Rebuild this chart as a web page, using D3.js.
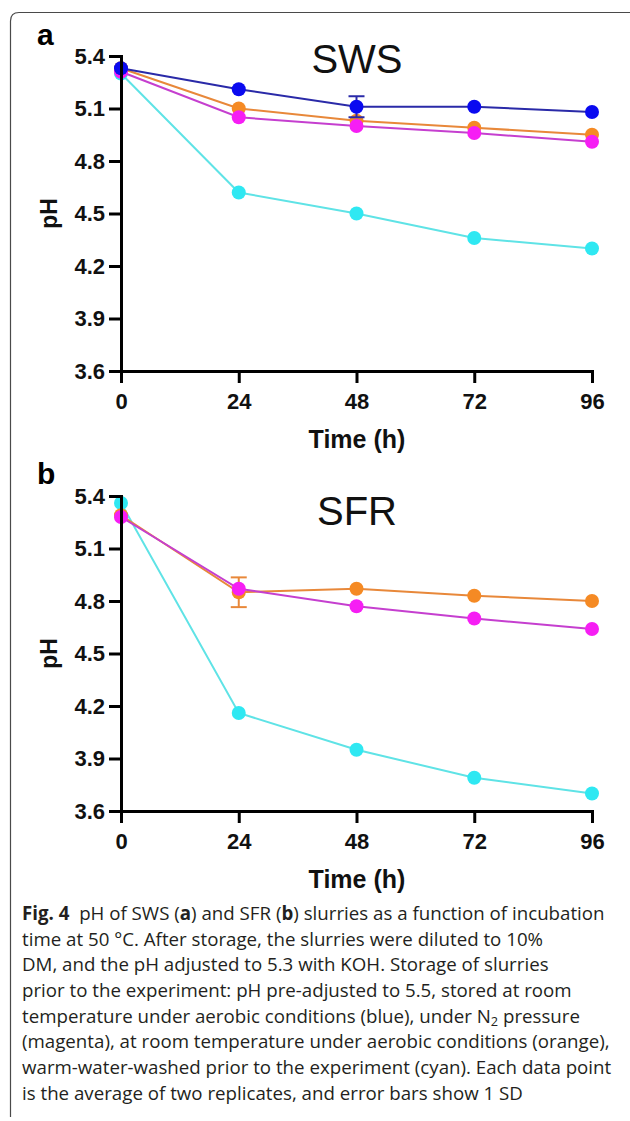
<!DOCTYPE html>
<html>
<head>
<meta charset="utf-8">
<script src="https://cdn.jsdelivr.net/npm/d3@7"></script>
<style>
  html, body { margin: 0; padding: 0; background: #fff; }
  svg { display: block; }
  .axis path, .axis line { stroke: #000; stroke-width: 3; }
  .axis text { font-family: "Liberation Sans", Arial, sans-serif; font-weight: bold; font-size: 22px; fill: #111; }
  .caption text { font-family: "Open Sans", sans-serif; font-size: 19px; fill: #231f20; white-space: pre; }
</style>
</head>
<body>
<svg></svg>
<script>
// ---- data ----
var timeH = [0, 24, 48, 72, 96];
var yTicks = [3.6, 3.9, 4.2, 4.5, 4.8, 5.1, 5.4];

// SWS (panel a)
var swsCyan    = [5.30, 4.62, 4.50, 4.36, 4.30];
var swsOrange  = [5.33, 5.10, 5.03, 4.99, 4.95];
var swsMagenta = [5.31, 5.05, 5.00, 4.96, 4.91];
var swsBlue    = [5.33, 5.21, 5.11, 5.11, 5.08];
var swsBlueSD  = [0, 0.01, 0.06, 0.01, 0];

// SFR (panel b)
var sfrCyan    = [5.36, 4.16, 3.95, 3.79, 3.70];
var sfrOrange  = [5.29, 4.85, 4.87, 4.83, 4.80];
var sfrOrangeSD = [0, 0.085, 0.01, 0.01, 0];
var sfrMagenta = [5.28, 4.87, 4.77, 4.70, 4.64];

var captionLines = [
  "**Fig. 4**  pH of SWS (**a**) and SFR (**b**) slurries as a function of incubation",
  "time at 50 °C. After storage, the slurries were diluted to 10%",
  "DM, and the pH adjusted to 5.3 with KOH. Storage of slurries",
  "prior to the experiment: pH pre-adjusted to 5.5, stored at room",
  "temperature under aerobic conditions (blue), under N_2_ pressure",
  "(magenta), at room temperature under aerobic conditions (orange),",
  "warm-water-washed prior to the experiment (cyan). Each data point",
  "is the average of two replicates, and error bars show 1 SD"
];

var colors = {
  cyan:    {line: "#5fe3e6", dot: "#2fe8f2"},
  orange:  {line: "#e8883a", dot: "#f58a24"},
  magenta: {line: "#c53fcf", dot: "#f61ef4"},
  blue:    {line: "#2a2aa8", dot: "#0a0af0"}
};

var width = 630, height = 1121;
var svg = d3.select("svg").attr("width", width).attr("height", height);

svg.append("rect").attr("width", width).attr("height", height).attr("fill", "#fff");

// outer frame (only top and left edges visible)
svg.append("path")
  .attr("d", "M10.5,1117 L10.5,21 Q10.5,12.5 19,12.5 L640,12.5")
  .attr("fill", "none")
  .attr("stroke", "#4a4a4a")
  .attr("stroke-width", 1.2);

var x = d3.scaleLinear().domain([0, 96]).range([121, 592]);

function drawPanel(opts) {
  var y = d3.scaleLinear().domain([3.6, 5.4]).range([opts.bottom, opts.bottom - 315]);
  var g = svg.append("g");

  g.append("text")
    .attr("x", 37).attr("y", opts.letterY)
    .attr("font-family", "Liberation Sans, Arial, sans-serif")
    .attr("font-weight", "bold").attr("font-size", 30)
    .text(opts.letter);

  g.append("text")
    .attr("x", 357).attr("y", opts.titleY)
    .attr("text-anchor", "middle")
    .attr("font-family", "Liberation Sans, Arial, sans-serif")
    .attr("font-size", 40).attr("fill", "#111")
    .text(opts.title);

  var line = d3.line()
    .x(function(d, i) { return x(timeH[i]); })
    .y(function(d) { return y(d); });

  opts.series.forEach(function(s) {
    var c = colors[s.color];
    g.append("path")
      .datum(s.values)
      .attr("d", line)
      .attr("fill", "none")
      .attr("stroke", c.line)
      .attr("stroke-width", 2);

    if (s.sd) {
      var eb = g.append("g").selectAll("g")
        .data(s.values.map(function(v, i) { return {t: timeH[i], v: v, sd: s.sd[i]}; })
          .filter(function(d) { return d.sd > 0.04; }))
        .enter().append("g")
        .attr("stroke", c.line).attr("stroke-width", 2);
      eb.append("line")
        .attr("x1", function(d) { return x(d.t); }).attr("x2", function(d) { return x(d.t); })
        .attr("y1", function(d) { return y(d.v + d.sd); }).attr("y2", function(d) { return y(d.v - d.sd); });
      [1, -1].forEach(function(sign) {
        eb.append("line")
          .attr("x1", function(d) { return x(d.t) - 8; }).attr("x2", function(d) { return x(d.t) + 8; })
          .attr("y1", function(d) { return y(d.v + sign * d.sd); })
          .attr("y2", function(d) { return y(d.v + sign * d.sd); });
      });
    }

    g.append("g").selectAll("circle")
      .data(s.values)
      .enter().append("circle")
      .attr("cx", function(d, i) { return x(timeH[i]); })
      .attr("cy", function(d) { return y(d); })
      .attr("r", 7)
      .attr("fill", c.dot);
  });

  g.append("g")
    .attr("class", "axis")
    .attr("transform", "translate(121,0)")
    .call(d3.axisLeft(y).tickValues(yTicks).tickFormat(d3.format(".1f"))
      .tickSize(12).tickSizeOuter(0).tickPadding(4));

  g.append("g")
    .attr("class", "axis")
    .attr("transform", "translate(0," + opts.bottom + ")")
    .call(d3.axisBottom(x).tickValues(timeH).tickSize(12).tickSizeOuter(0).tickPadding(10));

  g.selectAll(".axis path").attr("stroke-linecap", "square");

  g.append("text")
    .attr("transform", "translate(57," + (opts.bottom - 157.5) + ") rotate(-90)")
    .attr("text-anchor", "middle")
    .attr("font-family", "Liberation Sans, Arial, sans-serif")
    .attr("font-weight", "bold").attr("font-size", 23).attr("fill", "#111")
    .text("pH");

  g.append("text")
    .attr("x", 357).attr("y", opts.bottom + 77)
    .attr("text-anchor", "middle")
    .attr("font-family", "Liberation Sans, Arial, sans-serif")
    .attr("font-weight", "bold").attr("font-size", 25).attr("fill", "#111")
    .text("Time (h)");
}

drawPanel({
  letter: "a", letterY: 45, title: "SWS", titleY: 73, bottom: 371,
  series: [
    {color: "cyan", values: swsCyan},
    {color: "orange", values: swsOrange},
    {color: "magenta", values: swsMagenta},
    {color: "blue", values: swsBlue, sd: swsBlueSD}
  ]
});

drawPanel({
  letter: "b", letterY: 484, title: "SFR", titleY: 525, bottom: 811,
  series: [
    {color: "cyan", values: sfrCyan},
    {color: "orange", values: sfrOrange, sd: sfrOrangeSD},
    {color: "magenta", values: sfrMagenta}
  ]
});

// caption
var cap = svg.append("g").attr("class", "caption");
var capText = cap.selectAll("text")
  .data(captionLines)
  .enter().append("text")
  .attr("x", 0)
  .attr("y", function(d, i) { return 920 + i * 25.7; });

capText.each(function(line) {
  var t = d3.select(this);
  line.split(/(\*\*[^*]+\*\*|_\d_)/).forEach(function(part) {
    if (!part) return;
    if (part.indexOf("**") === 0) {
      t.append("tspan").attr("font-weight", "bold").text(part.slice(2, -2));
    } else if (part[0] === "_") {
      t.append("tspan").attr("font-size", 13).attr("baseline-shift", -3).text(part.slice(1, -1));
    } else {
      t.append("tspan").text(part);
    }
  });
});

var widest = capText.nodes()[5].getComputedTextLength();
var sx = 588 / widest;
cap.attr("transform", "translate(22,0) scale(" + sx + ",1)");
</script>
</body>
</html>
